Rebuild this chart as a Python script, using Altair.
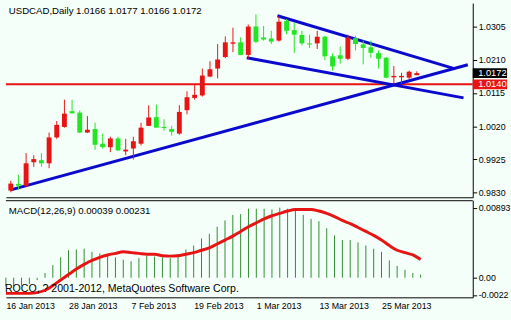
import altair as alt
import pandas as pd

# ---------------- data ----------------
symbol = "USDCAD"
period = "Daily"

bar_idx = list(range(-1, 53))  # trading-day index, 0 = 17 Jan 2013

opens = [0.9836, 0.9855, 0.9850, 0.9917, 0.9923, 0.9914, 0.9988, 1.0018, 1.0063, 1.0059,
         1.0002, 1.0012, 0.9970, 0.9960, 0.9985, 0.9948, 0.9956, 0.9970, 1.0021, 1.0046,
         1.0018, 1.0012, 0.9999, 1.0066, 1.0101, 1.0108, 1.0162, 1.0185, 1.0218, 1.0256,
         1.0260, 1.0224, 1.0305, 1.0274, 1.0271, 1.0265, 1.0321, 1.0295, 1.0281, 1.0257,
         1.0257, 1.0276, 1.0220, 1.0223, 1.0213, 1.0272, 1.0254, 1.0246, 1.0229, 1.0216,
         1.0160, 1.0160, 1.0159, 1.0166]
highs = [0.9864, 0.9881, 0.9943, 0.9937, 0.9943, 1.0002, 1.0035, 1.0096, 1.0096, 1.0065,
         1.0049, 1.0030, 0.9999, 0.9990, 0.9990, 0.9984, 0.9990, 1.0030, 1.0080, 1.0082,
         1.0040, 1.0021, 1.0080, 1.0120, 1.0138, 1.0185, 1.0206, 1.0255, 1.0277, 1.0302,
         1.0274, 1.0311, 1.0340, 1.0307, 1.0293, 1.0335, 1.0327, 1.0316, 1.0293, 1.0282,
         1.0293, 1.0279, 1.0228, 1.0248, 1.0282, 1.0279, 1.0265, 1.0265, 1.0237, 1.0218,
         1.0192, 1.0173, 1.0179, 1.0177]
lows = [0.9831, 0.9839, 0.9846, 0.9904, 0.9904, 0.9900, 0.9984, 1.0016, 1.0056, 1.0001,
        1.0001, 0.9953, 0.9956, 0.9946, 0.9949, 0.9937, 0.9925, 0.9965, 1.0021, 1.0016,
        1.0007, 0.9993, 0.9996, 1.0054, 1.0096, 1.0105, 1.0160, 1.0157, 1.0215, 1.0232,
        1.0223, 1.0213, 1.0258, 1.0265, 1.0255, 1.0262, 1.0283, 1.0230, 1.0251, 1.0244,
        1.0241, 1.0209, 1.0179, 1.0199, 1.0209, 1.0237, 1.0197, 1.0216, 1.0185, 1.0157,
        1.0143, 1.0141, 1.0154, 1.0166]
closes = [0.9856, 0.9850, 0.9914, 0.9926, 0.9914, 0.9988, 1.0024, 1.0056, 1.0057, 1.0002,
          1.0010, 0.9967, 0.9960, 0.9985, 0.9951, 0.9953, 0.9977, 1.0016, 1.0045, 1.0016,
          1.0015, 1.0004, 1.0061, 1.0103, 1.0110, 1.0165, 1.0183, 1.0211, 1.0260, 1.0260,
          1.0224, 1.0305, 1.0262, 1.0268, 1.0262, 1.0319, 1.0293, 1.0282, 1.0257, 1.0254,
          1.0276, 1.0220, 1.0191, 1.0213, 1.0274, 1.0255, 1.0244, 1.0230, 1.0213, 1.0159,
          1.0164, 1.0164, 1.0176, 1.0172]

macd_main = [-0.0011, -0.0011, -0.0010, -0.0008, -0.0003, 0.0006, 0.0016, 0.0026, 0.0035, 0.0036,
             0.0037, 0.0033, 0.0031, 0.0028, 0.0026, 0.0023, 0.0021, 0.0025, 0.0028, 0.0027,
             0.0026, 0.0025, 0.0030, 0.0036, 0.0041, 0.0050, 0.0056, 0.0065, 0.0073, 0.0080,
             0.0081, 0.0088, 0.0088, 0.0088, 0.0087, 0.00893, 0.0088, 0.0085, 0.0080, 0.0075,
             0.0072, 0.0063, 0.0054, 0.0048, 0.0048, 0.0045, 0.0041, 0.0037, 0.0033, 0.0022,
             0.0015, 0.0010, 0.0006, 0.00039]
macd_signal = [-0.0020, -0.0020, -0.0020, -0.0020, -0.0019, -0.0016, -0.0010, -0.0003, 0.0004, 0.0011,
               0.0017, 0.0022, 0.0026, 0.0029, 0.0031, 0.0033, 0.0032, 0.0031, 0.0030, 0.0030,
               0.0028, 0.00275, 0.0028, 0.0030, 0.0032, 0.0035, 0.0038, 0.0043, 0.0048, 0.0053,
               0.0059, 0.0065, 0.0070, 0.0075, 0.0079, 0.0082, 0.0085, 0.0087, 0.0087, 0.0087,
               0.0085, 0.0082, 0.0078, 0.0073, 0.0069, 0.0064, 0.0059, 0.0054, 0.0048, 0.0041,
               0.0035, 0.0032, 0.0029, 0.00231]
macd_params = (12, 26, 9)

# trend lines: (name, bar index, price)
line_names = ["support", "support", "upper", "upper", "lower", "lower"]
line_idx = [-1.0, 58.66, 33.8, 57.0, 29.8, 58.1]
line_price = [0.9838, 1.0196, 1.0336, 1.0184, 1.0216, 1.0101]

level_price = [1.0140]

date_tick_idx = [-1, 7, 15, 23, 31, 39, 47]
date_tick_text = ["16 Jan 2013", "28 Jan 2013", "7 Feb 2013", "19 Feb 2013",
                  "1 Mar 2013", "13 Mar 2013", "25 Mar 2013"]

price_ticks = [1.0305, 1.0210, 1.0115, 1.0020, 0.9925, 0.9830]
macd_ticks = [0.00893, 0.0, -0.0022]
macd_tick_text = ["0.00893", "0.00", "-0.0022"]

# ---------------- styling ----------------
BG = "#F5FFFA"
RED = "#E81414"
GREEN = "#22E622"
BLUE = "#0A0ACD"
HIST = "#2E8B2E"
FONT = "Liberation Sans"
W = 476
H_MAIN = 198
H_MACD = 99

candles = pd.DataFrame({"i": bar_idx, "o": opens, "h": highs, "l": lows, "c": closes})
candles["dir"] = ["up" if c >= o else "down" for o, c in zip(opens, closes)]
candles["btop"] = candles[["o", "c"]].max(axis=1)
candles["bbot"] = candles[["o", "c"]].min(axis=1)

macd_df = pd.DataFrame({"i": bar_idx, "m": macd_main, "s": macd_signal, "zero": 0.0})
lines_df = pd.DataFrame({"name": line_names, "i": line_idx, "p": line_price})
level_df = pd.DataFrame({"p": level_price})

boxes = pd.DataFrame({
    "p": [closes[-1], level_price[0]],
    "col": ["black", RED],
})
boxes["label"] = [f"{v:.4f}" for v in boxes["p"]]
boxes["top"] = boxes["p"] + 0.0014
boxes["bot"] = boxes["p"] - 0.0014

title_txt = f"{symbol},{period}  {opens[-1]:.4f} {highs[-1]:.4f} {lows[-1]:.4f} {closes[-1]:.4f}"
macd_txt = f"MACD({macd_params[0]},{macd_params[1]},{macd_params[2]}) {macd_main[-1]:.5f} {macd_signal[-1]:.5f}"
copy_txt = "ROCO, ? 2001-2012, MetaQuotes Software Corp."

xscale = alt.Scale(domain=[-1, 58.66], nice=False, zero=False)
yscale = alt.Scale(domain=[0.98168, 1.03723], nice=False, zero=False)
mscale = alt.Scale(domain=[-0.0025, 0.00988], nice=False, zero=False)

xaxis_main = alt.Axis(labels=False, ticks=False, grid=False, domain=True,
                      domainColor="black", title=None)
yaxis_main = alt.Axis(orient="right", values=price_ticks, format=".4f", grid=False,
                      domain=True, domainColor="black", ticks=True, tickSize=4,
                      tickColor="black", labelPadding=1.5, title=None)

colscale = alt.Scale(domain=["up", "down"], range=[RED, GREEN])

def X(field="i:Q", axis=xaxis_main):
    return alt.X(field, scale=xscale, axis=axis)

def Y(field):
    return alt.Y(field, scale=yscale, axis=yaxis_main)

level = alt.Chart(level_df).mark_rule(color=RED, strokeWidth=2).encode(y=Y("p:Q"))

trend = alt.Chart(lines_df).mark_line(color=BLUE, strokeWidth=3, clip=True).encode(
    x=X(), y=Y("p:Q"), detail="name:N")

wicks = alt.Chart(candles).mark_rule(strokeWidth=1).encode(
    x=X(), y=Y("l:Q"), y2="h:Q",
    color=alt.Color("dir:N", scale=colscale, legend=None))

bodies = alt.Chart(candles).mark_bar(size=5, orient="vertical").encode(
    x=X(), y=Y("bbot:Q"), y2="btop:Q",
    color=alt.Color("dir:N", scale=colscale, legend=None))

box_rect = alt.Chart(boxes).mark_rect().encode(
    x=alt.value(W), x2=alt.value(511), y=Y("top:Q"), y2="bot:Q",
    color=alt.Color("col:N", scale=None))

box_text = alt.Chart(boxes).mark_text(align="left", baseline="middle", color="white",
                                      font=FONT, fontSize=9.5).encode(
    x=alt.value(W + 5.5), y=Y("p:Q"), text="label:N")

title = alt.Chart(pd.DataFrame({"t": [title_txt]})).mark_text(
    align="left", baseline="middle", font=FONT, fontSize=9.8, color="black").encode(
    x=alt.value(3), y=alt.value(8), text="t:N")

main = alt.layer(level, trend, wicks, bodies, box_rect, box_text, title).properties(
    width=W, height=H_MAIN)

# ---------------- MACD panel ----------------
label_map = "{" + ",".join(f"'{k}':'{v}'" for k, v in zip(date_tick_idx, date_tick_text)) + "}"
xaxis_macd = alt.Axis(values=date_tick_idx, labelExpr=f"{label_map}[datum.value + '']",
                      labelAlign="left", labelFlush=False, labelOverlap=False,
                      labelPadding=4, ticks=False, grid=False, domain=True,
                      domainColor="black", title=None, labelOffset=0)

mlabel_expr = " : ".join(
    f"abs(datum.value - ({v})) < 1e-7 ? '{t}'" for v, t in zip(macd_ticks, macd_tick_text)) + " : ''"
yaxis_macd = alt.Axis(orient="right", values=macd_ticks, labelExpr=mlabel_expr, grid=False,
                      domain=True, domainColor="black", ticks=True, tickSize=4,
                      tickColor="black", labelPadding=1.5, title=None)

def MX():
    return alt.X("i:Q", scale=xscale, axis=xaxis_macd)

def MY(field):
    return alt.Y(field, scale=mscale, axis=yaxis_macd)

top_border = alt.Chart(pd.DataFrame({"a": [0]})).mark_rule(color="black", strokeWidth=1).encode(
    x=alt.value(0), x2=alt.value(W), y=alt.value(0.5))

hist = alt.Chart(macd_df).mark_rule(color=HIST, strokeWidth=1).encode(
    x=MX(), y=MY("zero:Q"), y2="m:Q")

signal = alt.Chart(macd_df).mark_line(color=RED, strokeWidth=3, interpolate="monotone").encode(
    x=MX(), y=MY("s:Q"))

mtitle = alt.Chart(pd.DataFrame({"t": [macd_txt]})).mark_text(
    align="left", baseline="middle", font=FONT, fontSize=9.8, color="black").encode(
    x=alt.value(3), y=alt.value(11), text="t:N")

copyright_ = alt.Chart(pd.DataFrame({"t": [copy_txt]})).mark_text(
    align="left", baseline="middle", font=FONT, fontSize=10.8, color="black").encode(
    x=alt.value(-1), y=alt.value(91), text="t:N")

macd = alt.layer(top_border, hist, signal, mtitle, copyright_).properties(width=W, height=H_MACD)

chart = alt.vconcat(main, macd, spacing=2).properties(
    background=BG,
    padding={"left": 0, "top": 0, "right": 0, "bottom": 8},
).configure_view(stroke=None, fill=BG).configure_axis(
    labelFont=FONT, labelFontSize=9, labelColor="black"
).configure_concat(spacing=2)

chart.save("out.html", embed_options={"renderer": "svg", "actions": False})
